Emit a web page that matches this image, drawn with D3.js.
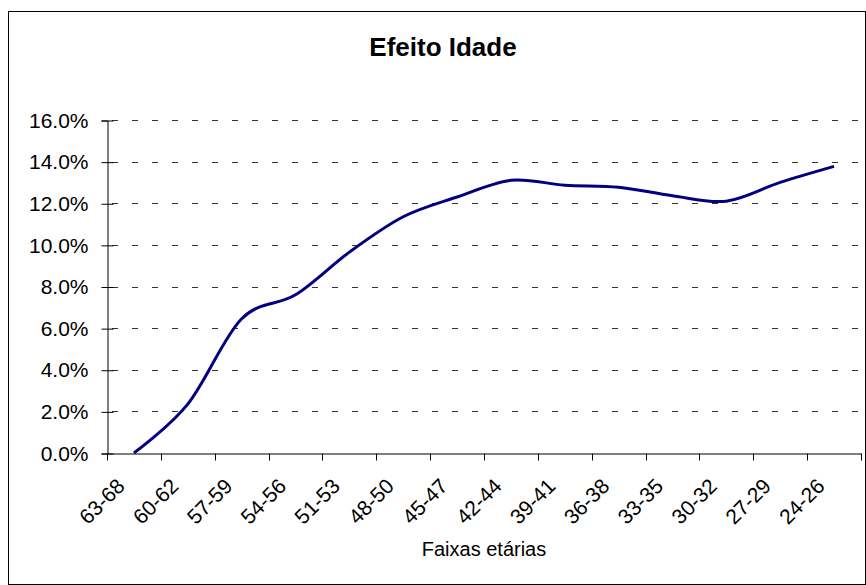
<!DOCTYPE html>
<html>
<head>
<meta charset="utf-8">
<script src="https://d3js.org/d3.v7.min.js"></script>
<style>
  body { margin: 0; background: #fff; }
  text { font-family: "Liberation Sans", Arial, sans-serif; }
</style>
</head>
<body>
<div id="chart-area"></div>
<script>
// Efeito Idade - line chart by age band

var categories = ["63-68","60-62","57-59","54-56","51-53","48-50","45-47",
                  "42-44","39-41","36-38","33-35","30-32","27-29","24-26"];
var efeito = [0.0, 2.35, 6.45, 7.6, 9.65, 11.35, 12.3,
              13.1, 12.87, 12.77, 12.36, 12.1, 13.0, 13.77];
var yTicks = [0, 2, 4, 6, 8, 10, 12, 14, 16];

var W = 866, H = 585;
var plot = {left: 107, right: 861, top: 120, bottom: 453};

var svg = d3.select("#chart-area")
  .append("svg")
  .attr("width", W)
  .attr("height", H);

// chart frame
svg.append("rect")
  .attr("x", 8.5)
  .attr("y", 11.5)
  .attr("width", 857)
  .attr("height", 573)
  .attr("fill", "#fff")
  .attr("stroke", "#000")
  .attr("stroke-width", 1);

svg.append("text")
  .attr("x", 443)
  .attr("y", 56)
  .attr("text-anchor", "middle")
  .attr("font-size", "26px")
  .attr("font-weight", "bold")
  .text("Efeito Idade");

var x = d3.scaleBand().domain(categories).range([plot.left, plot.right]);
var y = d3.scaleLinear().domain([0, 16]).range([plot.bottom, plot.top]);

// dashed gridlines
svg.append("g")
  .selectAll("line")
  .data(yTicks.filter(function(d) { return d > 0; }))
  .enter().append("line")
  .attr("x1", plot.left + 5)
  .attr("x2", plot.right)
  .attr("y1", function(d) { return Math.round(y(d)) + 0.5; })
  .attr("y2", function(d) { return Math.round(y(d)) + 0.5; })
  .attr("stroke", "#333")
  .attr("stroke-width", 1)
  .attr("stroke-dasharray", "6,14");

// y axis
var yAxisCall = d3.axisLeft(y)
  .tickValues(yTicks)
  .tickSize(6)
  .tickPadding(13)
  .tickFormat(function(d) { return d.toFixed(1) + "%"; });

var yAxis = svg.append("g")
  .attr("transform", "translate(" + (plot.left + 0.5) + ",0.5)")
  .call(yAxisCall);
yAxis.select(".domain").attr("stroke", "#000");
yAxis.selectAll(".tick line").attr("x2", 6).attr("x1", -6).attr("stroke", "#000");
yAxis.selectAll("text")
  .attr("font-size", "21px")
  .attr("font-family", "Liberation Sans, Arial, sans-serif")
  .attr("fill", "#000")
  .attr("x", -19);

// x axis - labels at centers, ticks between categories
var xAxisCall = d3.axisBottom(x).tickSize(0).tickSizeOuter(0);
var xAxis = svg.append("g")
  .attr("transform", "translate(0," + (plot.bottom + 0.5) + ")")
  .call(xAxisCall);
xAxis.select(".domain").attr("stroke", "#000");
xAxis.selectAll("text")
  .attr("font-size", "21px")
  .attr("font-family", "Liberation Sans, Arial, sans-serif")
  .attr("fill", "#000")
  .attr("text-anchor", "end")
  .attr("x", -8)
  .attr("y", 34)
  .attr("dy", 0)
  .attr("transform", "rotate(-45,-8,34)");

var bounds = categories.map(function(c) { return x(c); }).concat([x.range()[1]]);
xAxis.selectAll("line.sep")
  .data(bounds)
  .enter().append("line")
  .attr("class", "sep")
  .attr("x1", function(d) { return Math.round(d) + 0.5; })
  .attr("x2", function(d) { return Math.round(d) + 0.5; })
  .attr("y1", 0)
  .attr("y2", 7)
  .attr("stroke", "#000");

svg.append("text")
  .attr("x", 484)
  .attr("y", 556)
  .attr("text-anchor", "middle")
  .attr("font-size", "20px")
  .text("Faixas etárias");

// the line
var line = d3.line()
  .x(function(d, i) { return x(categories[i]) + x.bandwidth() / 2; })
  .y(function(d) { return y(d); })
  .curve(d3.curveCatmullRom.alpha(0));

svg.append("path")
  .datum(efeito)
  .attr("d", line)
  .attr("fill", "none")
  .attr("stroke", "#000080")
  .attr("stroke-width", 3)
  .attr("stroke-linejoin", "round");
</script>
</body>
</html>
